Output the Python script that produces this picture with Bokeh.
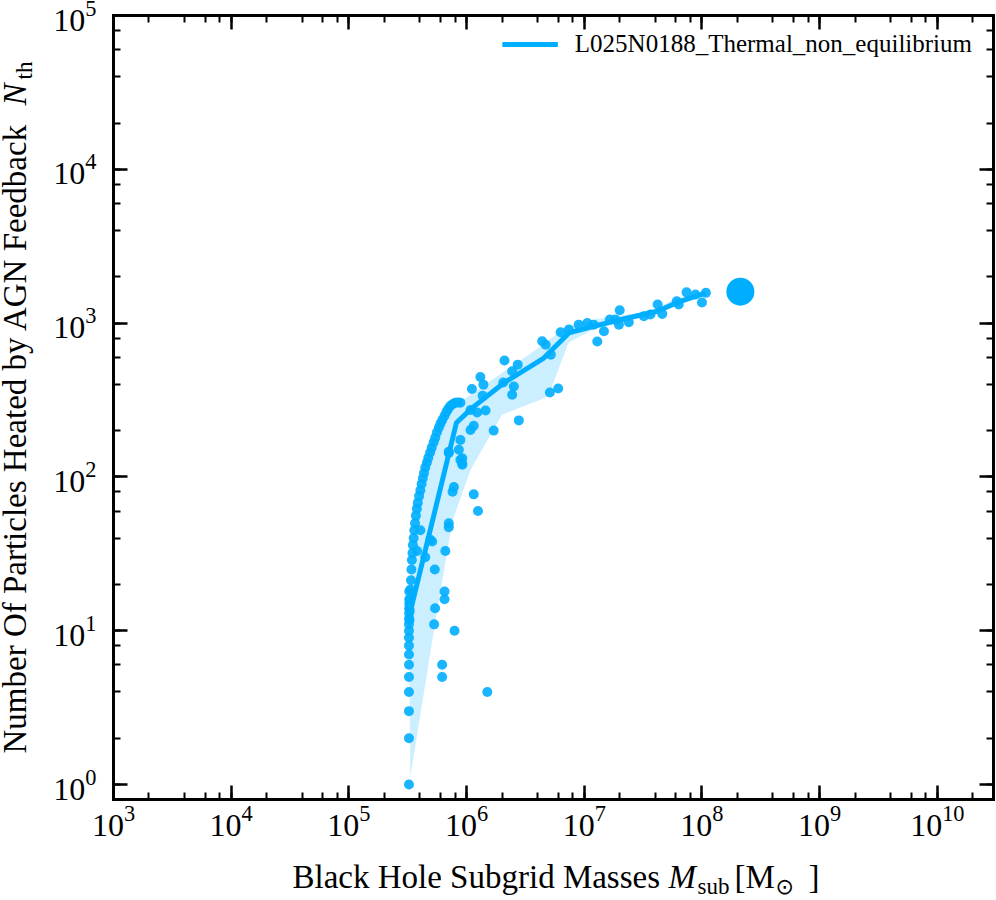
import math
from bokeh.plotting import figure
from bokeh.models import LogAxis, LogTicker, Label, Range1d
from bokeh.embed import file_html
from bokeh.resources import INLINE

# ---------------- data ----------------
series_name = "L025N0188_Thermal_non_equilibrium"

# black holes sitting at the seed mass
seed_mass = [3.24e5, 3.24e5, 3.24e5, 3.24e5, 3.24e5, 3.24e5, 3.24e5, 3.24e5, 3.24e5,
             3.24e5, 3.24e5, 3.25e5, 3.25e5, 3.25e5, 3.26e5, 3.26e5, 3.26e5]
seed_nth = [1, 2, 3, 4, 5, 6, 7, 8, 9, 10, 11, 12, 13, 14, 15, 16, 18]

# densely populated growth branch
branch_mass = [3.27e5, 3.29e5, 3.3e5, 3.33e5, 3.37e5, 3.4e5, 3.43e5, 3.47e5, 3.5e5, 3.55e5,
               3.6e5, 3.65e5, 3.71e5, 3.78e5, 3.85e5, 3.95e5, 4.05e5, 4.15e5, 4.25e5, 4.35e5,
               4.46e5, 4.6e5, 4.73e5, 4.9e5, 5.06e5, 5.25e5, 5.42e5, 5.6e5, 5.81e5, 6.0e5,
               6.23e5, 6.5e5, 6.75e5, 7.0e5, 7.3e5, 7.65e5, 8.04e5, 8.45e5, 8.86e5]
branch_nth = [11.7, 13.5, 15.8, 18.5, 21.3, 25, 28.8, 32, 36, 40,
              45, 50, 56, 62, 68, 75, 82, 90, 98, 106,
              115, 124, 133, 144, 155, 168, 180, 195, 209, 222,
              235, 250, 265, 278, 290, 298, 304, 305, 304]

# remaining scattered black holes
other_mass = [1.5e6, 6.2e5, 6.2e5, 7.9e5, 5.3e5, 5.4e5, 6.5e5, 6.5e5, 5.1e5, 4.93e5,
              4.46e5, 4.05e5, 3.8e5, 5.37e5, 6.6e5, 7.06e5, 7.06e5, 1.25e6, 1.15e6, 7.8e5,
              7.6e5, 8.86e5, 9.2e5, 7.06e5, 7.06e5, 8.6e5, 9.2e5, 9.2e5, 8.86e5, 1.7e6,
              1.08e6, 1.15e6, 2.78e6, 1.23e6, 1.45e6, 1.08e6, 1.37e6, 2.44e6, 2.52e6, 2.05e6,
              1.11e6, 1.39e6, 1.31e6, 2.44e6, 2.72e6, 2.1e6, 5.1e6, 6.0e6, 4.39e6, 4.7e6,
              5.2e6, 6.3e6, 7.4e6, 8.97e6, 1.06e7, 1.2e7, 1.29e7, 1.47e7, 1.65e7, 1.84e7,
              2.0e7, 1.97e7, 2.39e7, 3.21e7, 3.65e7, 4.2e7, 4.6e7, 6.35e7, 6.1e7, 7.4e7,
              8.8e7, 1.0e8, 1.08e8]
other_nth = [4, 6, 5, 10, 11, 14, 18, 16, 38, 39,
             30, 45, 33, 25, 33, 50, 47, 60, 77, 86,
             80, 129, 120, 143, 146, 150, 132, 122, 174, 200,
             202, 215, 233, 262, 270, 272, 337, 342, 387, 411,
             373, 398, 446, 486, 537, 572, 354, 376, 762, 724,
             623, 871, 907, 977, 1002, 977, 759, 885, 1054, 1054,
             1211, 977, 1012, 1107, 1136, 1320, 1148, 1320, 1387, 1585,
             1535, 1360, 1573]

# running median
median_mass = [3.3e5, 8.2e5, 1.11e6, 2.07e6, 4.53e6, 7.4e6, 1.2e7, 1.78e7, 4.16e7, 6.56e7, 1.07e8]
median_nth = [13, 225, 280, 408, 593, 863, 953, 1028, 1194, 1387, 1567]

# percentile band edges
band_upper_mass = [3.33e5, 3.28e5, 3.28e5, 3.35e5, 3.6e5, 4.5e5, 6.2e5, 8.9e5, 4.25e6, 7.1e6,
                   1.2e7, 3.65e7, 6.1e7, 1.08e8]
band_upper_nth = [1.12, 4, 10, 20, 45, 120, 240, 309, 705, 955,
                  1054, 1195, 1456, 1585]
band_lower_mass = [3.33e5, 5.45e5, 7.6e5, 1.08e6, 2.0e6, 4.25e6, 4.97e6, 7.35e6, 1.2e7,
                   3.18e7, 6.56e7, 1.08e8]
band_lower_nth = [1.12, 11.7, 52, 111, 254, 318, 337, 747, 907,
                  1102, 1380, 1550]

# most massive black hole (highlighted)
big_mass = [2.12e8]
big_nth = [1600]

# axis extents of the plotting box
x_min, x_max = 1e3, 3e10
y_min, y_max = 0.799, 1e5

# ---------------- layout / style ----------------
COL = "#00aeff"
SERIF = "Liberation Serif"
W, H = 996, 900
# plotting box in canvas pixels
BOX_L, BOX_R, BOX_T, BOX_B = 113, 993, 15, 799

lx0, lx1 = math.log10(x_min), math.log10(x_max)
ly0, ly1 = math.log10(y_min), math.log10(y_max)
dx = (lx1 - lx0) / (BOX_R - BOX_L)
dy = (ly1 - ly0) / (BOX_B - BOX_T)
xr = Range1d(10 ** (lx0 - BOX_L * dx), 10 ** (lx1 + (W - BOX_R) * dx))
yr = Range1d(10 ** (ly0 - (H - BOX_B) * dy), 10 ** (ly1 + BOX_T * dy))

p = figure(width=W, height=H, x_axis_type="log", y_axis_type="log",
           x_range=xr, y_range=yr, x_axis_location=None, y_axis_location=None,
           output_backend="svg", toolbar_location=None,
           min_border=0, min_border_left=0, min_border_right=0,
           min_border_top=0, min_border_bottom=0)
for g in p.grid:
    g.visible = False
p.background_fill_color = "white"
p.border_fill_color = "white"
p.outline_line_color = None

# band polygon: upper edge then lower edge reversed
poly_x = band_upper_mass + band_lower_mass[::-1]
poly_y = band_upper_nth + band_lower_nth[::-1]
p.patch(poly_x, poly_y, fill_color=COL, fill_alpha=0.2, line_color=None)

p.line(median_mass, median_nth, line_color=COL, line_width=5, legend_label=series_name)

all_mass = seed_mass + branch_mass + other_mass
all_nth = seed_nth + branch_nth + other_nth
p.scatter(all_mass, all_nth, size=10, fill_color=COL, line_color=None, fill_alpha=0.9)

p.scatter(big_mass, big_nth, size=28, fill_color=COL, line_color=None)


def make_axis(place, loc, bounds, labels, standoff=6):
    ax = LogAxis(ticker=LogTicker(), fixed_location=loc, bounds=bounds)
    ax.axis_line_width = 3
    ax.axis_line_color = "black"
    ax.axis_line_cap = "square"
    ax.major_tick_in = 14
    ax.major_tick_out = 0
    ax.minor_tick_in = 7
    ax.minor_tick_out = 0
    ax.major_tick_line_width = 2.5
    ax.minor_tick_line_width = 2
    ax.major_tick_line_color = "black"
    ax.minor_tick_line_color = "black"
    if labels:
        ax.major_label_text_font = SERIF
        ax.major_label_text_font_size = "32px"
        ax.major_label_text_color = "black"
        ax.major_label_standoff = standoff
    else:
        ax.major_label_text_alpha = 0
        ax.major_label_text_font_size = "1px"
    p.add_layout(ax, place)
    return ax


make_axis("below", y_min, (x_min, x_max), True, standoff=6)
make_axis("left", x_min, (y_min, y_max), True, standoff=17)
make_axis("above", y_max, (x_min, x_max), False)
make_axis("right", x_max, (y_min, y_max), False)

# legend
lg = p.legend[0]
lg.location = "top_right"
lg.margin = 24
lg.padding = 6
lg.spacing = 0
lg.glyph_width = 56
lg.glyph_height = 40
lg.label_standoff = 17
lg.border_line_color = None
lg.background_fill_alpha = 0
lg.label_text_font = SERIF
lg.label_text_font_size = "25px"
lg.label_text_color = "black"


# axis titles built from pieces (regular / italic / subscript)
def add_text(txt, cx, cy, size="33px", style="normal", angle=0.0, font=SERIF):
    # cx, cy: canvas pixels from the top-left corner
    p.add_layout(Label(x=cx, y=H - cy, x_units="screen", y_units="screen", text=txt,
                       text_font=font, text_font_size=size, text_font_style=style,
                       text_color="black", text_align="left", text_baseline="alphabetic",
                       angle=angle))


add_text("Black Hole Subgrid Masses", 292, 876)
add_text("M", 668, 876, style="italic")
add_text("sub", 697, 886, size="23px")
add_text("[M", 734, 876)
add_text("\u2299", 775, 886, size="22px", font="DejaVu Sans")
add_text("]", 808, 876)

add_text("Number Of Particles Heated by AGN Feedback", 14, 753, angle=math.pi / 2)
add_text("N", 14, 105, style="italic", angle=math.pi / 2)
add_text("th", 24, 79, size="23px", angle=math.pi / 2)

open("out.html", "w").write(file_html(p, INLINE))
